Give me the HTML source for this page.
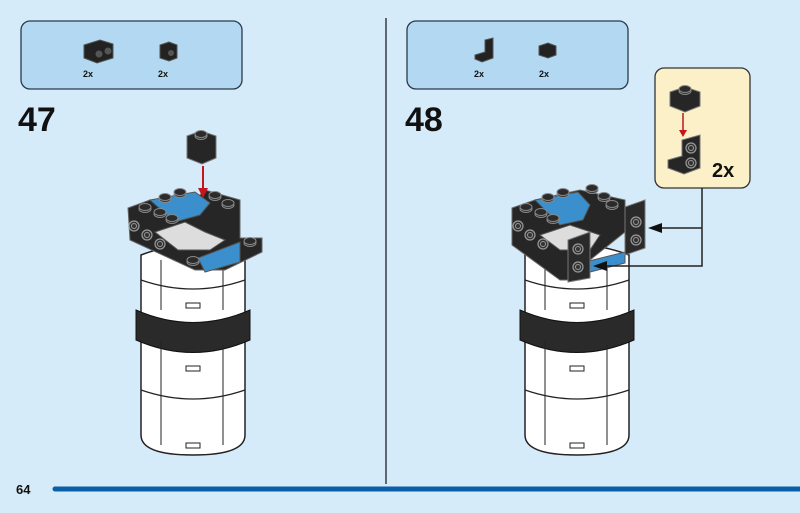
<!DOCTYPE html>
<html><head><meta charset="utf-8"><style>
body{margin:0;width:800px;height:513px;overflow:hidden;background:#d6ebf9}
svg{display:block}
text{font-family:"Liberation Sans",sans-serif}
</style></head><body>
<svg width="800" height="513" viewBox="0 0 800 513" xmlns="http://www.w3.org/2000/svg">
<defs>
<g id="tower">
  <path d="M0 15 L0 195 Q0 215 52 215 Q104 215 104 195 L104 15 Q52 -5 0 15 Z" fill="#fff" stroke="#222" stroke-width="1.5"/>
  <path d="M0 40 Q52 58 104 40" fill="none" stroke="#222" stroke-width="1.2"/>
  <path d="M-5 70 L-5 100 Q52 125 109 100 L109 70 Q52 95 -5 70 Z" fill="#2a2a2a" stroke="#111"/>
  <path d="M0 150 Q52 168 104 150" fill="none" stroke="#222" stroke-width="1.2"/>
  <line x1="20" y1="20" x2="20" y2="70" stroke="#222"/>
  <line x1="82" y1="22" x2="82" y2="70" stroke="#222"/>
  <line x1="20" y1="100" x2="20" y2="205" stroke="#222"/>
  <line x1="82" y1="105" x2="82" y2="205" stroke="#222"/>
  <rect x="45" y="63" width="14" height="5" fill="#fff" stroke="#222"/>
  <rect x="45" y="126" width="14" height="5" fill="#fff" stroke="#222"/>
  <rect x="45" y="203" width="14" height="5" fill="#fff" stroke="#222"/>
</g>
<g id="stud"><ellipse cx="0" cy="0" rx="6" ry="3.5" fill="#333" stroke="#888" stroke-width="1"/><ellipse cx="0" cy="-2" rx="6" ry="3.5" fill="#2b2b2b" stroke="#888" stroke-width="1"/></g>
<g id="sstud"><circle r="5" fill="#333" stroke="#999" stroke-width="1.2"/><circle r="2.5" fill="none" stroke="#999"/></g>
</defs>

<line x1="386" y1="18" x2="386" y2="484" stroke="#111" stroke-width="1.2"/>
<text x="16" y="494" font-size="13" font-weight="bold" fill="#111">64</text>
<line x1="55" y1="489" x2="800" y2="489" stroke="#0b5fa8" stroke-width="5" stroke-linecap="round"/>

<rect x="21" y="21" width="221" height="68" rx="9" fill="#b3d8f1" stroke="#2a3a4a" stroke-width="1.3"/>
<rect x="407" y="21" width="221" height="68" rx="9" fill="#b3d8f1" stroke="#2a3a4a" stroke-width="1.3"/>
<g fill="#222">
  <path d="M84 45 L100 40 L113 44 L113 58 L97 63 L84 58Z" stroke="#555"/>
  <circle cx="99" cy="54" r="3.5" fill="#555"/><circle cx="108" cy="51" r="3.5" fill="#555"/>
  <path d="M160 45 L169 42 L177 45 L177 58 L169 61 L160 58Z" stroke="#555"/>
  <circle cx="171" cy="53" r="3" fill="#555"/>
  <path d="M475 55 L485 52 L485 40 L493 38 L493 58 L482 62 L475 59Z" stroke="#555"/>
  <path d="M539 46 L548 43 L556 46 L556 55 L548 58 L539 55Z" stroke="#555"/>
</g>
<g font-size="9" font-weight="bold" fill="#111">
<text x="83" y="77">2x</text><text x="158" y="77">2x</text>
<text x="474" y="77">2x</text><text x="539" y="77">2x</text>
</g>

<text x="18" y="131" font-size="34" font-weight="bold" fill="#111">47</text>
<text x="405" y="131" font-size="34" font-weight="bold" fill="#111">48</text>

<!-- step 47 -->
<use href="#tower" x="141" y="240"/>
<path d="M128 208 L150 200 L195 200 L205 190 L240 200 L240 238 L262 238 L262 252 L225 270 L195 270 L130 240 Z" fill="#262626" stroke="#666" stroke-width="1"/>
<path d="M150 200 L195 192 L210 203 L200 215 L175 222 Z" fill="#3a8fcc" stroke="#555"/>
<path d="M198 258 L240 242 L240 262 L205 272 Z" fill="#3a8fcc" stroke="#555"/>
<path d="M155 232 L185 222 L205 232 L225 240 L210 250 L178 250 Z" fill="#ddd" stroke="#555"/>
<use href="#stud" x="165" y="199"/><use href="#stud" x="180" y="194"/>
<use href="#stud" x="145" y="209"/><use href="#stud" x="160" y="214"/><use href="#stud" x="172" y="220"/>
<use href="#stud" x="215" y="197"/><use href="#stud" x="228" y="205"/>
<use href="#stud" x="250" y="243"/><use href="#stud" x="193" y="262"/>
<use href="#sstud" x="134" y="226"/><use href="#sstud" x="147" y="235"/><use href="#sstud" x="160" y="244"/>
<path d="M187 136 L201 131 L216 136 L216 158 L202 164 L187 158 Z" fill="#262626" stroke="#777"/>
<use href="#stud" x="201" y="136"/>
<line x1="203" y1="166" x2="203" y2="192" stroke="#c4161c" stroke-width="2"/>
<path d="M198 188 L203 198 L208 188 Z" fill="#c4161c"/>

<!-- step 48 -->
<use href="#tower" x="525" y="240"/>
<path d="M512 208 L535 200 L580 190 L625 200 L625 232 L590 260 L580 280 L560 280 L512 245 Z" fill="#262626" stroke="#666"/>
<path d="M535 200 L578 192 L590 205 L583 220 L560 225 Z" fill="#3a8fcc" stroke="#555"/>
<path d="M585 262 L625 252 L625 263 L590 272 Z" fill="#3a8fcc" stroke="#555"/>
<path d="M540 235 L570 225 L600 235 L590 250 L560 250 Z" fill="#ddd" stroke="#555"/>
<path d="M568 240 L590 232 L590 278 L568 282 Z" fill="#2a2a2a" stroke="#777"/>
<path d="M625 207 L645 200 L645 248 L625 255 Z" fill="#2a2a2a" stroke="#777"/>
<use href="#stud" x="548" y="199"/><use href="#stud" x="563" y="194"/>
<use href="#stud" x="526" y="209"/><use href="#stud" x="541" y="214"/><use href="#stud" x="553" y="220"/>
<use href="#stud" x="592" y="190"/><use href="#stud" x="604" y="198"/><use href="#stud" x="612" y="206"/>
<use href="#sstud" x="518" y="226"/><use href="#sstud" x="530" y="235"/><use href="#sstud" x="543" y="244"/>
<use href="#sstud" x="578" y="249"/><use href="#sstud" x="578" y="267"/>
<use href="#sstud" x="636" y="222"/><use href="#sstud" x="636" y="240"/>

<rect x="655" y="68" width="95" height="120" rx="9" fill="#fbf0c8" stroke="#333" stroke-width="1.3"/>
<path d="M670 92 L685 87 L700 92 L700 106 L685 112 L670 106 Z" fill="#262626" stroke="#777"/>
<use href="#stud" x="685" y="91"/>
<line x1="683" y1="113" x2="683" y2="132" stroke="#c4161c" stroke-width="1.5"/>
<path d="M679 130 L683 137 L687 130 Z" fill="#c4161c"/>
<path d="M668 160 L682 156 L682 140 L700 135 L700 168 L684 174 L668 168 Z" fill="#262626" stroke="#777"/>
<use href="#sstud" x="691" y="148"/><use href="#sstud" x="691" y="163"/>
<text x="712" y="177" font-size="20" font-weight="bold" fill="#111">2x</text>

<path d="M702 188 L702 266 L605 266 M702 228 L660 228" fill="none" stroke="#222" stroke-width="1.5"/>
<path d="M648 228 L662 223 L662 233 Z" fill="#111"/>
<path d="M593 266 L607 261 L607 271 Z" fill="#111"/>
</svg>
</body></html>
